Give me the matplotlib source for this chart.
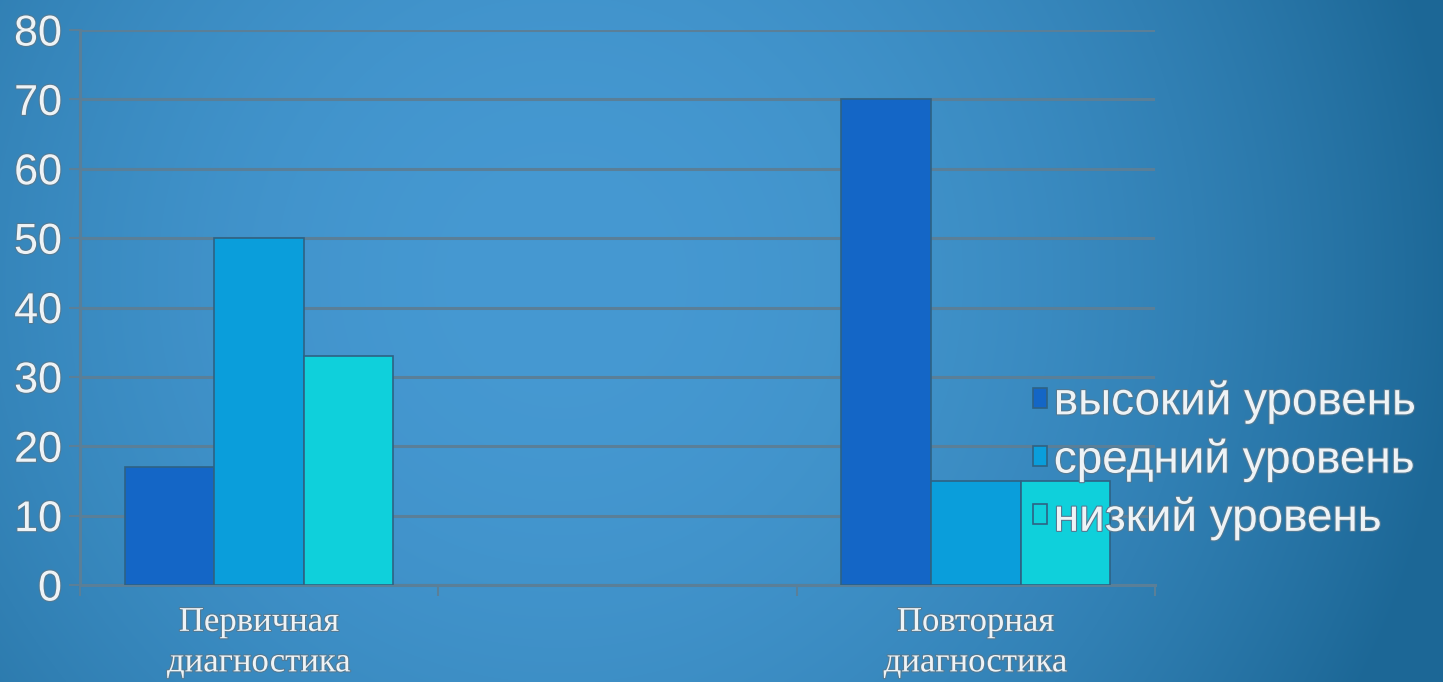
import numpy as np
import matplotlib
matplotlib.use("Agg")
import matplotlib.pyplot as plt
import matplotlib.patheffects as pe

# data
categories = ["Первичная\nдиагностика", "", "Повторная\nдиагностика"]
high = [17, np.nan, 70]
medium = [50, np.nan, 15]
low = [33, np.nan, 15]
series_names = ["высокий уровень", "средний уровень", "низкий уровень"]
yticks = [0, 10, 20, 30, 40, 50, 60, 70, 80]

colors = ["#1466c6", "#0a9edb", "#0fd0db"]
text_col = "#eef3f6"
grid_col = "#5a7f98"
shadow = [pe.withStroke(linewidth=1.6, foreground="#557a92")]

fig = plt.figure(figsize=(14.43, 6.82), dpi=100)

# background gradient
bg = fig.add_axes([0, 0, 1, 1], zorder=-10)
yy, xx = np.mgrid[0:682, 0:1443]
d2 = ((xx - 560) / 900.0) ** 2 + ((yy - 280) / 900.0) ** 2
d2 = np.clip(d2, 0, 1)
c0 = np.array([0x46, 0x99, 0xd2]) / 255.0
c1 = np.array([0x1c, 0x67, 0x96]) / 255.0
img = c0[None, None, :] * (1 - d2[..., None]) + c1[None, None, :] * d2[..., None]
bg.imshow(img, aspect="auto", extent=[0, 1, 0, 1])
bg.axis("off")

ax = fig.add_axes([0.0554, 0.1422, 0.7450, 0.8138])
ax.patch.set_alpha(0)

x = np.arange(len(categories))
w = 0.25
for i, (vals, c, name) in enumerate(zip([high, medium, low], colors, series_names)):
    ax.bar(x + (i - 1) * w, vals, width=w, color=c, edgecolor="#2e6284",
           linewidth=1.2, label=name, zorder=3)

ax.set_xlim(-0.5, 2.5)
ax.set_ylim(0, 80)
ax.set_yticks(yticks)
ax.set_yticklabels([str(t) for t in yticks], fontsize=31, color=text_col,
                   family="Liberation Sans")
ax.set_xticks(x)
ax.set_xticklabels(categories, fontsize=25, color=text_col,
                   family="Liberation Serif", linespacing=1.3)
ax.set_xticks([-0.5, 0.5, 1.5, 2.5], minor=True)
ax.tick_params(axis="x", which="major", length=0, pad=15)
ax.tick_params(axis="x", which="minor", length=8, width=1.5, color=grid_col,
               direction="out")
ax.tick_params(axis="y", length=8, width=1.5, color=grid_col, pad=5)
for lab in ax.get_xticklabels() + ax.get_yticklabels():
    lab.set_path_effects(shadow)

ax.grid(axis="y", color=grid_col, linewidth=2.2, zorder=0)
ax.set_axisbelow(True)
for s in ["top", "right"]:
    ax.spines[s].set_visible(False)
ax.spines["left"].set_color(grid_col)
ax.spines["left"].set_linewidth(2.2)
ax.spines["bottom"].set_color(grid_col)
ax.spines["bottom"].set_linewidth(2.2)

leg = ax.legend(loc="center left", bbox_to_anchor=(0.716, 0.325),
                bbox_transform=fig.transFigure, frameon=False,
                borderpad=0, borderaxespad=0,
                handlelength=0.3, handleheight=0.3,
                handletextpad=0.15, labelspacing=0.3,
                prop={"family": "Liberation Sans", "size": 33})
for t in leg.get_texts():
    t.set_color(text_col)
    t.set_path_effects(shadow)

fig.savefig("out.png", dpi=100)
